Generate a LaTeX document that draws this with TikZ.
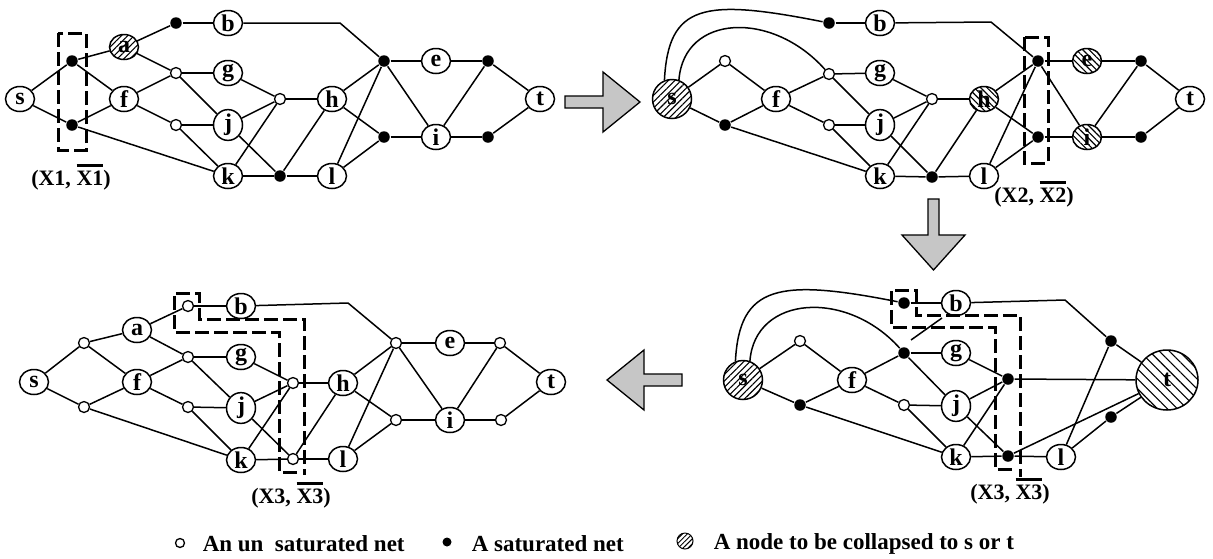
\documentclass[tikz,border=0pt]{standalone}
\usepackage{fontspec}
\setmainfont{Liberation Serif}
\usetikzlibrary{patterns.meta, shapes.geometric}

\newcommand{\lblfont}{\fontsize{24}{24}\selectfont\bfseries}
\newcommand{\ovl}[1]{\setbox0\hbox{#1}\rlap{\rule[\dimexpr\ht0+4pt\relax]{\wd0}{2.6pt}}\box0}
\newcommand{\coreedges}{s/u1, s/u2, u1/f, u2/f, u2/k, f/d2, f/d3, d1/b, d2/g, d2/j, d3/j, d3/k, g/m1, j/m1, j/m2, k/m1, k/m2, m2/l, l/r1, l/r2}
\newcommand{\rightedges}{m1/h, m2/h, h/r1, h/r2, r1/e, r1/i, r2/i, e/q1, i/q1, i/q2, q1/t, q2/t}

\tikzset{
  vtx/.style={ellipse, draw, line width=1.5pt, minimum width=29pt, minimum height=25pt, inner sep=0pt, font=\lblfont},
  hatchne/.style={vtx, pattern={Lines[angle=45,distance=4.5pt,line width=1.1pt]}},
  hatchnw/.style={vtx, pattern={Lines[angle=-45,distance=4.5pt,line width=1.1pt]}},
  bigs/.style={hatchne, minimum width=39pt, minimum height=39pt},
  bigt/.style={vtx, minimum width=62pt, minimum height=60pt, pattern={Lines[angle=-45,distance=7pt,line width=1.1pt]}},
  opn/.style={circle, draw, line width=1.3pt, fill=white, minimum size=11pt, inner sep=0pt},
  sat/.style={circle, fill=black, minimum size=11.5pt, inner sep=0pt},
  cutline/.style={line width=3pt, dash pattern=on 14pt off 5pt},
  cutlabel/.style={font=\fontsize{22}{24}\selectfont\bfseries},
  grayarrow/.style={draw, line width=1.3pt, fill=gray!45},
  legendtxt/.style={anchor=west, inner sep=0pt, font=\fontsize{23}{24}\selectfont\bfseries}
}

\begin{document}
\begin{tikzpicture}[x=1pt, y=-1pt, line width=1.5pt]
  \useasboundingbox (0,0) rectangle (1213,558);

  % 第一个割 (X1)
  \begin{scope}[shift={(20,0)}]
    \foreach \n/\x/\y in {s/0/99, f/104/99, b/208/23, g/208/73, j/208/125, k/208/176, h/312/99, l/312/176, e/416/61, i/416/137, t/520/99}
      \node[vtx] (p1\n) at (\x,\y) {\n};
    \node[hatchne] (p1a) at (104,47) {a};
    \foreach \n/\st/\x/\y in {u1/sat/52/61, u2/sat/52/125, d1/sat/156/23, d2/opn/156/73, d3/opn/156/125, m1/opn/260/99, m2/sat/260/176, r1/sat/364/61, r2/sat/364/137, q1/sat/468/61, q2/sat/468/137}
      \node[\st] (p1\n) at (\x,\y) {};
    \coordinate (p1bnd) at (320,23);
    \draw[cutline] (38,33) rectangle (66,150);
    \node[cutlabel] (p1cut) at (51,177) {(X1, \ovl{X1})};
  \end{scope}
  \foreach \u/\v in \coreedges \draw (p1\u) -- (p1\v);
  \foreach \u/\v in \rightedges \draw (p1\u) -- (p1\v);
  \foreach \u/\v in {u1/a, a/d1, a/d2} \draw (p1\u) -- (p1\v);
  \draw (p1b) -- (p1bnd) -- (p1r1);

  % 第二个割 (X2)
  \begin{scope}[shift={(672,0)}]
    \foreach \n/\x/\y in {f/104/99, b/208/23, g/208/73, j/208/125, k/208/176, l/312/176, t/518/99}
      \node[vtx] (p2\n) at (\x,\y) {\n};
    \node[bigs] (p2s) at (0,99) {s};
    \foreach \n/\x/\y in {h/312/99, e/415/61, i/415/137}
      \node[hatchnw] (p2\n) at (\x,\y) {\n};
    \foreach \n/\st/\x/\y in {u1/opn/53/61, u2/sat/53/125, d1/sat/157/23, d2/opn/157/74, d3/opn/157/125, m1/opn/260/99, m2/sat/260/177, r1/sat/366/61, r2/sat/366/137, q1/sat/469/61, q2/sat/469/137}
      \node[\st] (p2\n) at (\x,\y) {};
    \coordinate (p2bnd) at (319,22);
    \draw[cutline] (352,37) rectangle (376,163);
    \node[cutlabel] (p2cut) at (362,194) {(X2, \ovl{X2})};
  \end{scope}
  \foreach \u/\v in \coreedges \draw (p2\u) -- (p2\v);
  \foreach \u/\v in \rightedges \draw (p2\u) -- (p2\v);
  \draw (p2b) -- (p2bnd) -- (p2r1);
  \draw (p2s.112) .. controls +(4,-76) and +(-126,-25) .. (p2d1);
  \draw (p2s.70) .. controls +(5,-66) and +(-57,-64) .. (p2d2);

  % 第三个割 (X3), 右下
  \begin{scope}[shift={(748,281)}]
    \foreach \n/\x/\y in {f/104/99, b/208/22, g/208/72, j/208/125, k/208/176, l/313/176}
      \node[vtx] (p4\n) at (\x,\y) {\n};
    \node[bigs] (p4s) at (-5,99) {s};
    \node[bigt] (p4t) at (419,99) {t};
    \foreach \n/\st/\x/\y in {u1/opn/52/60, u2/sat/52/124, d1/sat/156/22, d2/sat/156/72, d3/opn/156/124, m1/sat/260/98, m2/sat/260/175, r1/sat/363/60, r2/sat/363/136}
      \node[\st] (p4\n) at (\x,\y) {};
    \coordinate (p4bnd) at (317,19);
    \draw (163,59) -- (194,37);
    \draw[cutline] (264,188) -- (247,188) -- (247,46) -- (143,46) -- (143,9) -- (168,9) -- (168,34) -- (272,34) -- (272,196);
    \node[cutlabel] (p4cut) at (262,210) {(X3, \ovl{X3})};
  \end{scope}
  \foreach \u/\v in \coreedges \draw (p4\u) -- (p4\v);
  \foreach \u/\v in {m1/t, m2/t, r1/t, r2/t} \draw (p4\u) -- (p4\v);
  \draw (p4b) -- (p4bnd) -- (p4r1);
  \draw (p4s.112) .. controls +(4,-76) and +(-126,-25) .. (p4d1);
  \draw (p4s.70) .. controls +(5,-66) and +(-57,-64) .. (p4d2);

  % 第三个割 (X3), 左下
  \begin{scope}[shift={(34,283)}]
    \foreach \n/\x/\y in {s/0/99, a/103/47, f/103/99, b/207/23, g/207/74, j/207/125, k/207/177, h/309/100, l/309/176, e/416/60, i/416/137, t/517/99}
      \node[vtx] (p3\n) at (\x,\y) {\n};
    \foreach \n/\st/\x/\y in {u1/opn/50/60, u2/opn/50/124, d1/opn/154/23, d2/opn/154/74, d3/opn/154/124, m1/opn/259/100, m2/opn/259/176, r1/opn/362/60, r2/opn/362/137, q1/opn/466/60, q2/opn/467/137}
      \node[\st] (p3\n) at (\x,\y) {};
    \coordinate (p3bnd) at (314,20);
    \draw[cutline] (263,189) -- (245,189) -- (245,49) -- (140,49) -- (140,10) -- (165,10) -- (165,36) -- (270,36) -- (270,192);
    \node[cutlabel] (p3cut) at (257,212) {(X3, \ovl{X3})};
  \end{scope}
  \foreach \u/\v in \coreedges \draw (p3\u) -- (p3\v);
  \foreach \u/\v in \rightedges \draw (p3\u) -- (p3\v);
  \foreach \u/\v in {u1/a, a/d1, a/d2} \draw (p3\u) -- (p3\v);
  \draw (p3b) -- (p3bnd) -- (p3r1);

  % 灰色箭头
  \draw[grayarrow] (565,96) -- (603,96) -- (603,72) -- (640,102) -- (603,132) -- (603,108) -- (565,108) -- cycle;
  \draw[grayarrow] (928,199) -- (939,199) -- (939,235) -- (965,235) -- (933.5,270) -- (902,235) -- (928,235) -- cycle;
  \draw[grayarrow] (682,374) -- (644,374) -- (644,350) -- (607,380) -- (644,410) -- (644,386) -- (682,386) -- cycle;

  % 图例
  \node[opn, minimum size=9pt] (lgopn) at (180,543) {};
  \node[legendtxt] (lgopntxt) at (202,544) {An un~ saturated net};
  \node[sat, minimum size=9pt] (lgsat) at (447,542) {};
  \node[legendtxt] (lgsattxt) at (471,544) {A saturated net};
  \node[circle, draw, line width=1pt, minimum size=16pt, pattern={Lines[angle=45,distance=3.5pt,line width=1pt]}] (lghatch) at (685,541) {};
  \node[legendtxt] (lghatchtxt) at (713,544) {A node to be collapsed to s or t};
\end{tikzpicture}
\end{document}
